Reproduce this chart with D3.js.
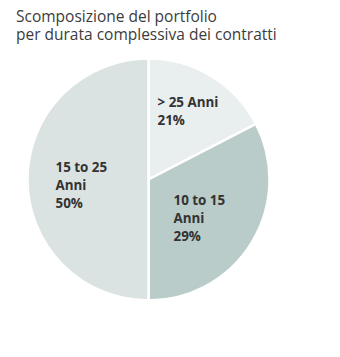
<!DOCTYPE html>
<html>
<head>
<meta charset="utf-8">
<script src="https://cdn.jsdelivr.net/npm/d3@7/dist/d3.min.js"></script>
<style>
  html, body { margin: 0; padding: 0; background: #ffffff; }
  svg { display: block; }
</style>
</head>
<body>
<svg id="chart" width="340" height="357"></svg>
<script>
// Data (top level, small named arrays)
const titleLines = ["Scomposizione del portfolio", "per durata complessiva dei contratti"];
const categories = ["> 25 Anni", "10 to 15 Anni", "15 to 25 Anni"];
// slice sizes as drawn in the picture (share of the full circle, %)
const drawnShares = [17.4, 32.6, 50];
// percentage labels printed on the slices
const percentLabels = ["21%", "29%", "50%"];
const labelLines = [["> 25 Anni", "21%"], ["10 to 15", "Anni", "29%"], ["15 to 25", "Anni", "50%"]];
const colors = ["#e9eeee", "#b9ccc9", "#dae3e2"];

const svg = d3.select("#chart");
const cx = 148.5, cy = 179.5, r = 121;

svg.append("g").selectAll("text").data(titleLines).join("text")
  .attr("x", 16).attr("y", (d, i) => 22 + i * 18)
  .attr("font-family", "'Open Sans', sans-serif")
  .attr("font-size", 15.5)
  .attr("fill", "#3c3c3c")
  .text(d => d);

const pie = d3.pie().sort(null).value(d => d)(drawnShares);
const arc = d3.arc().innerRadius(0).outerRadius(r);
const g = svg.append("g").attr("transform", `translate(${cx},${cy})`);
g.selectAll("path").data(pie).join("path")
  .attr("d", arc)
  .attr("fill", (d, i) => colors[i])
  .attr("stroke", "#ffffff")
  .attr("stroke-width", 2.5);

// label anchors (relative to pie centre)
const labelPos = [[9, -72.5], [25, 25], [-93, -7.5]];
const lab = svg.append("g");
labelLines.forEach((lines, i) => {
  const t = lab.append("text")
    .attr("font-family", "'Open Sans', sans-serif")
    .attr("font-weight", "bold")
    .attr("font-size", 13.4)
    .attr("fill", "#333");
  lines.forEach((ln, j) => {
    t.append("tspan")
      .attr("x", cx + labelPos[i][0])
      .attr("y", cy + labelPos[i][1] + j * 18)
      .text(ln);
  });
});
</script>
</body>
</html>
